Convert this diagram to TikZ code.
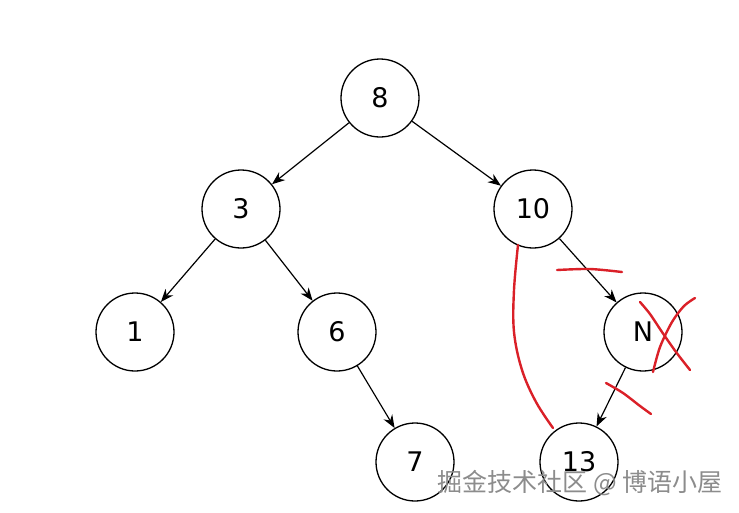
\documentclass[tikz,border=0pt]{standalone}
\usepackage{fontspec}
\setmainfont{DejaVu Sans}
\newfontfamily\cjkfont{Noto Sans CJK SC}
\usetikzlibrary{arrows.meta}
\definecolor{pen}{RGB}{218,32,40}
\definecolor{wmgray}{RGB}{140,140,140}

\begin{document}
\begin{tikzpicture}[x=1pt, y=-1pt,
  treenode/.style={circle, draw, line width=1.3pt, minimum size=78pt,
                   inner sep=0pt, font=\fontsize{27}{31}\selectfont},
  link/.style={-{Stealth[length=13pt,width=10pt]}, line width=1.2pt},
  scribble/.style={pen, line width=2.4pt, line cap=round, line join=round}
]
  \useasboundingbox (0,0) rectangle (739,512);

  % Tree nodes
  \node[treenode] (n8)  at (380,98)  {8};
  \node[treenode] (n3)  at (241,209) {3};
  \node[treenode] (n10) at (533,209) {10};
  \node[treenode] (n1)  at (135,332) {1};
  \node[treenode] (n6)  at (337,332) {6};
  \node[treenode] (nN)  at (643,332) {N};
  \node[treenode] (n7)  at (415,462) {7};
  \node[treenode] (n13) at (579,462) {13};

  % Edges
  \draw[link] (n8) -- (n3);
  \draw[link] (n8) -- (n10);
  \draw[link] (n3) -- (n1);
  \draw[link] (n3) -- (n6);
  \draw[link] (n6) -- (n7);
  \draw[link] (n10) -- (nN);
  \draw[link] (nN) -- (n13);

  % Red pen marks
  \draw[scribble] plot[smooth, tension=0.6] coordinates
    {(518,245) (514,290) (514,332) (522,370) (536,402) (553,428)};
  \draw[scribble] plot[smooth] coordinates {(557,270) (590,269) (622,272)};
  \draw[scribble] plot[smooth] coordinates
    {(640,302) (650,314) (662,332) (676,352) (690,370)};
  \draw[scribble] plot[smooth] coordinates
    {(695,298) (684,306) (672,322) (660,347) (653,372)};
  \draw[scribble] plot[smooth] coordinates {(606,383) (623,393) (640,406) (651,414)};

  % Watermark
  \node[text=wmgray, font=\cjkfont\fontsize{25}{29}\selectfont] (wm) at (580,483)
    {掘金技术社区 @ 博语小屋};
\end{tikzpicture}
\end{document}
